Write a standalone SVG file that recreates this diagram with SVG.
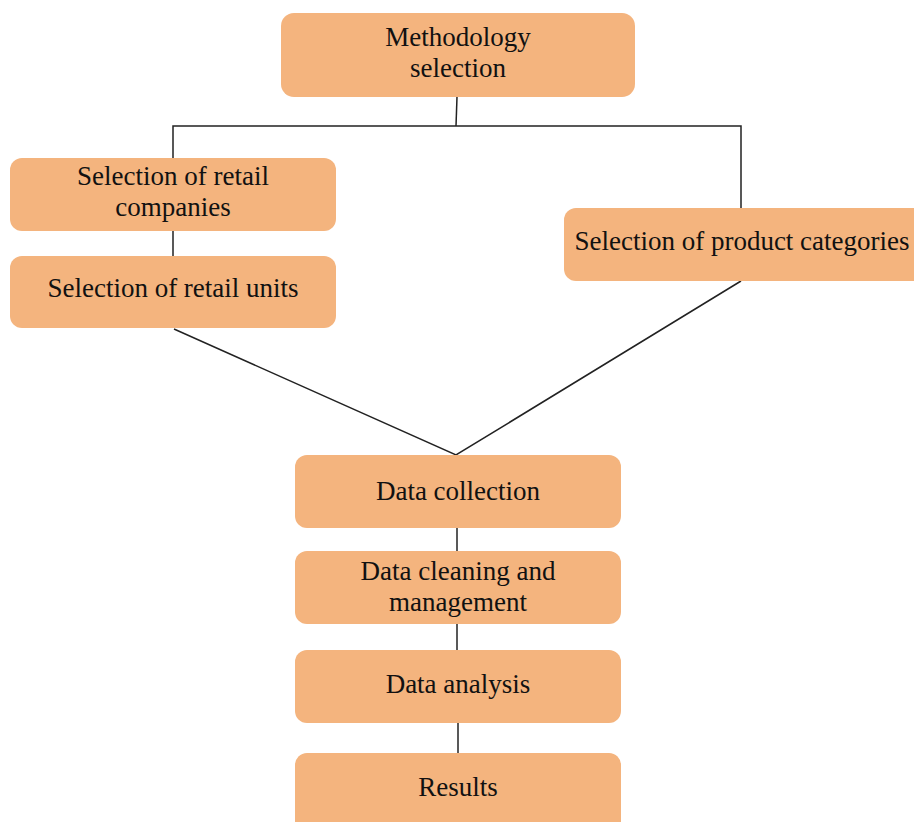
<svg xmlns="http://www.w3.org/2000/svg" width="914" height="822" viewBox="0 0 914 822">
<style>
.box{fill:#F4B47E;}
.t{font-family:"Liberation Serif","Times New Roman",serif;font-size:27px;fill:#111;text-anchor:middle;}
.c{stroke:#222;stroke-width:1.5;fill:none;}
</style>
<rect width="914" height="822" fill="#fff"/>
<g id="connectors" class="c">
<polyline points="457,97 456,126"/>
<polyline points="173,158 173,126 741,126 741,208"/>
<line x1="173" y1="231" x2="173" y2="256"/>
<polyline points="174,329 456,455 741,281"/>
<line x1="457" y1="528" x2="457" y2="551"/>
<line x1="457" y1="624" x2="457" y2="650"/>
<line x1="458" y1="723" x2="458" y2="753"/>
</g>
<g id="methodology"><rect class="box" x="281" y="13" width="354" height="84" rx="13"/><text class="t" x="458" y="46">Methodology</text><text class="t" x="458" y="77">selection</text></g>
<g id="retail-companies"><rect class="box" x="10" y="158" width="326" height="73" rx="12"/><text class="t" x="173" y="185">Selection of retail</text><text class="t" x="173" y="216">companies</text></g>
<g id="retail-units"><rect class="box" x="10" y="256" width="326" height="72" rx="12"/><text class="t" x="173" y="297">Selection of retail units</text></g>
<g id="product-categories"><rect class="box" x="564" y="208" width="362" height="73" rx="12"/><text class="t" x="742" y="250">Selection of product categories</text></g>
<g id="data-collection"><rect class="box" x="295" y="455" width="326" height="73" rx="12"/><text class="t" x="458" y="500">Data collection</text></g>
<g id="data-cleaning"><rect class="box" x="295" y="551" width="326" height="73" rx="12"/><text class="t" x="458" y="580">Data cleaning and</text><text class="t" x="458" y="611">management</text></g>
<g id="data-analysis"><rect class="box" x="295" y="650" width="326" height="73" rx="12"/><text class="t" x="458" y="693">Data analysis</text></g>
<g id="results"><rect class="box" x="295" y="753" width="326" height="85" rx="12"/><text class="t" x="458" y="796">Results</text></g>
</svg>
